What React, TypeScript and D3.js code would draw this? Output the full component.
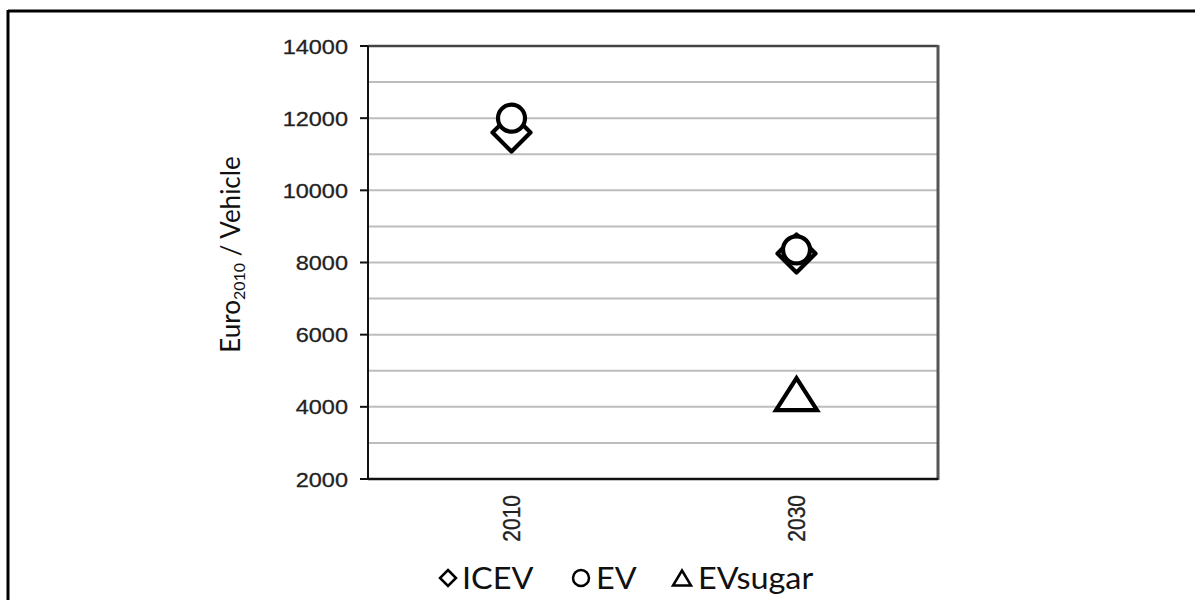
import React from "react";
import * as d3 from "d3";

const categories = ["2010", "2030"];
const icevValues: (number | null)[] = [11600, 8250];
const evValues: (number | null)[] = [12000, 8350];
const evSugarValues: (number | null)[] = [null, 4350];
const yTicks = [2000, 4000, 6000, 8000, 10000, 12000, 14000];
const gridValues = [3000, 4000, 5000, 6000, 7000, 8000, 9000, 10000, 11000, 12000, 13000];
const legendLabels = ["ICEV", "EV", "EVsugar"];

const W = 1195;
const H = 600;
const plot = { left: 368, right: 938, top: 46, bottom: 479 };

function diamondPath(cx: number, cy: number, r: number) {
  return `M${cx},${cy - r}L${cx + r},${cy}L${cx},${cy + r}L${cx - r},${cy}Z`;
}
function trianglePath(cx: number, cy: number, w: number, h: number) {
  return `M${cx},${cy - h / 2}L${cx + w / 2},${cy + h / 2}L${cx - w / 2},${cy + h / 2}Z`;
}

export default function App() {
  const x = d3.scaleBand<string>().domain(categories).range([plot.left, plot.right]);
  const y = d3.scaleLinear().domain([2000, 14000]).range([plot.bottom, plot.top]);
  const cxOf = (c: string) => (x(c) as number) + x.bandwidth() / 2 + 1;
  const sw = 4.2;
  const arial = "'Liberation Sans', Arial, sans-serif";
  const lato = "Lato, 'Open Sans', sans-serif";

  return (
    <svg width={W} height={H} style={{ position: "absolute", left: 0, top: 0, background: "#fff" }}>
      <rect x={0} y={0} width={W} height={H} fill="#fff" />
      {/* outer frame */}
      <line x1={8} y1={11} x2={W} y2={11} stroke="#000" strokeWidth={3} />
      <line x1={8} y1={10} x2={8} y2={H} stroke="#000" strokeWidth={3} />

      {/* grid */}
      {gridValues.map((v) => (
        <line key={v} x1={plot.left} x2={plot.right} y1={y(v)} y2={y(v)} stroke="#bdbdbd" strokeWidth={2} />
      ))}
      {/* top & right border */}
      <line x1={plot.left} x2={plot.right} y1={plot.top} y2={plot.top} stroke="#444" strokeWidth={2.5} />
      <line x1={plot.right} x2={plot.right} y1={plot.top - 1} y2={plot.bottom + 1} stroke="#555" strokeWidth={3} />
      {/* axes */}
      <line x1={plot.left} x2={plot.left} y1={plot.top} y2={plot.bottom} stroke="#111" strokeWidth={2} />
      <line x1={plot.left} x2={plot.right} y1={plot.bottom} y2={plot.bottom} stroke="#111" strokeWidth={2.5} />
      {yTicks.map((v) => (
        <g key={v}>
          <line x1={plot.left - 8} x2={plot.left} y1={y(v)} y2={y(v)} stroke="#111" strokeWidth={2} />
          <text
            transform={`translate(${plot.left - 20},${y(v) + 7.5}) scale(1.12,1)`}
            textAnchor="end"
            fontFamily={arial}
            fontSize={21}
            fill="#222"
            stroke="#222"
            strokeWidth={0.3}
          >
            {v}
          </text>
        </g>
      ))}

      {/* x labels */}
      {categories.map((c) => (
        <text
          key={c}
          transform={`translate(${cxOf(c) + 8},${plot.bottom + 16}) rotate(-90) scale(1,1.1)`}
          textAnchor="end"
          fontFamily={arial}
          fontSize={21}
          fill="#222"
          stroke="#222"
          strokeWidth={0.3}
        >
          {c}
        </text>
      ))}

      {/* y title */}
      <text
        transform={`translate(240,${(plot.top + plot.bottom) / 2 - 8}) rotate(-90)`}
        textAnchor="middle"
        fontFamily={lato}
        fontSize={26}
        fill="#111"
      >
        Euro
        <tspan fontSize={16} dy={5}>2010</tspan>
        <tspan dy={-5}> / Vehicle</tspan>
      </text>

      {/* markers */}
      {categories.map((c, i) =>
        icevValues[i] == null ? null : (
          <path key={"d" + c} d={diamondPath(cxOf(c), y(icevValues[i] as number), 19)} fill="#fff" stroke="#000" strokeWidth={sw} strokeLinejoin="round" />
        )
      )}
      {categories.map((c, i) =>
        evValues[i] == null ? null : (
          <circle key={"c" + c} cx={cxOf(c)} cy={y(evValues[i] as number)} r={13.5} fill="#fff" stroke="#000" strokeWidth={sw} />
        )
      )}
      {categories.map((c, i) =>
        evSugarValues[i] == null ? null : (
          <path key={"t" + c} d={trianglePath(cxOf(c), y(evSugarValues[i] as number), 41, 32)} fill="#fff" stroke="#000" strokeWidth={sw} strokeLinejoin="miter" />
        )
      )}

      {/* legend */}
      <g fontFamily={lato} fontSize={30} fill="#111">
        <path d={diamondPath(448, 578, 8)} fill="#fff" stroke="#000" strokeWidth={2.5} />
        <text transform={`translate(462,589) scale(1.08,1)`}>{legendLabels[0]}</text>
        <circle cx={581} cy={578} r={8} fill="#fff" stroke="#000" strokeWidth={2.5} />
        <text transform={`translate(596,589) scale(1.08,1)`}>{legendLabels[1]}</text>
        <path d={trianglePath(682, 578, 18, 15)} fill="#fff" stroke="#000" strokeWidth={2.5} />
        <text transform={`translate(698,589) scale(1.08,1)`}>{legendLabels[2]}</text>
      </g>
    </svg>
  );
}
